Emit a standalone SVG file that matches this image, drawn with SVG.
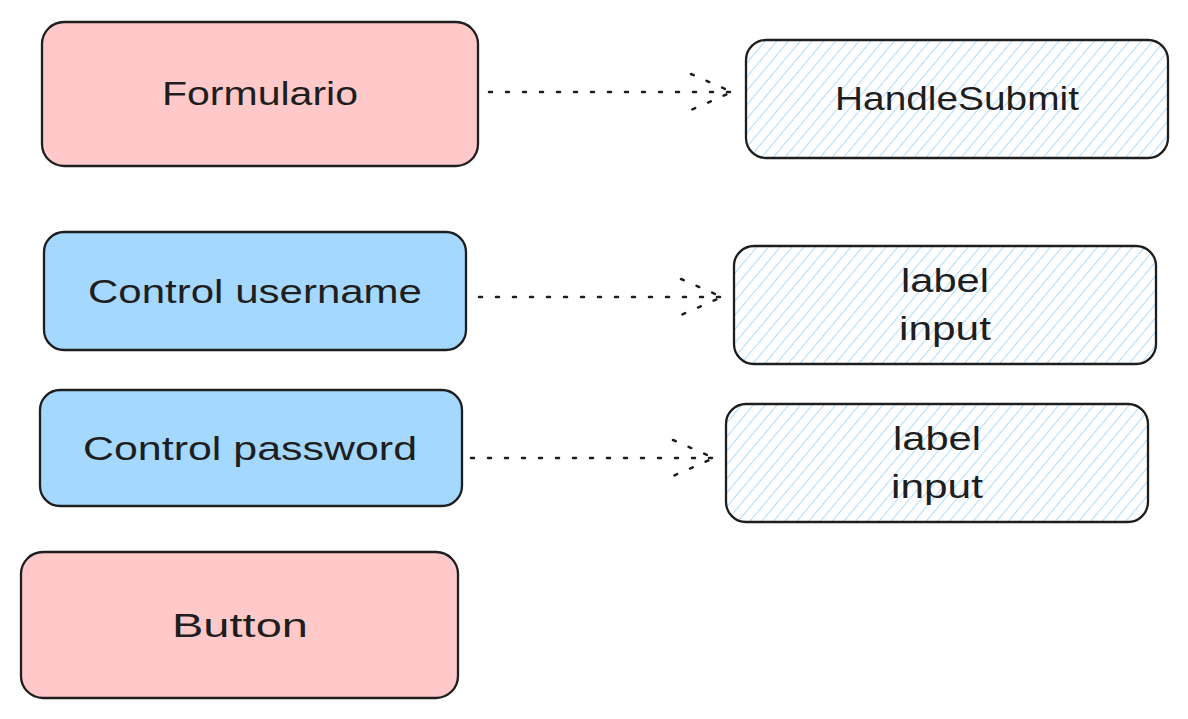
<svg xmlns="http://www.w3.org/2000/svg" width="1188" height="719" viewBox="0 0 1188 719">
<defs>
<pattern id="hatch" patternUnits="userSpaceOnUse" width="9" height="9" patternTransform="rotate(40)">
<line x1="0" y1="0" x2="0" y2="9" stroke="#a5d8ff" stroke-width="1.8"/>
</pattern>
<style>
.box{stroke:#1e1e1e;stroke-width:2.3;}
.pink{fill:#ffc9c9;}
.blue{fill:#a5d8ff;}
.hatch{fill:url(#hatch);}
.t{font-family:"Liberation Sans",Arial,sans-serif;font-size:33px;fill:#1e1e1e;text-anchor:middle;}
.c{fill:none;stroke:#1e1e1e;stroke-width:2.5;stroke-dasharray:3 14;stroke-linecap:round;}
</style>
</defs>
<rect width="1188" height="719" fill="#ffffff"/>
<g id="formulario">
<rect class="box pink" x="42" y="22" width="436" height="144" rx="22"/>
<text class="t" x="260" y="105" textLength="196" lengthAdjust="spacingAndGlyphs">Formulario</text>
</g>
<g id="handlesubmit">
<rect class="box hatch" x="746" y="40" width="422" height="118" rx="20"/>
<text class="t" x="957" y="110" textLength="244" lengthAdjust="spacingAndGlyphs">HandleSubmit</text>
</g>
<g id="control-username">
<rect class="box blue" x="44" y="232" width="422" height="118" rx="20"/>
<text class="t" x="255" y="303" textLength="334" lengthAdjust="spacingAndGlyphs">Control username</text>
</g>
<g id="fields-username">
<rect class="box hatch" x="734" y="246" width="422" height="118" rx="20"/>
<text class="t" x="945" y="292" textLength="88" lengthAdjust="spacingAndGlyphs">label</text>
<text class="t" x="945" y="340" textLength="92" lengthAdjust="spacingAndGlyphs">input</text>
</g>
<g id="control-password">
<rect class="box blue" x="40" y="390" width="422" height="116" rx="20"/>
<text class="t" x="250" y="460" textLength="334" lengthAdjust="spacingAndGlyphs">Control password</text>
</g>
<g id="fields-password">
<rect class="box hatch" x="726" y="404" width="422" height="118" rx="20"/>
<text class="t" x="937" y="450" textLength="88" lengthAdjust="spacingAndGlyphs">label</text>
<text class="t" x="937" y="498" textLength="92" lengthAdjust="spacingAndGlyphs">input</text>
</g>
<g id="button">
<rect class="box pink" x="21" y="552" width="437" height="146" rx="22"/>
<text class="t" x="240" y="637" textLength="136" lengthAdjust="spacingAndGlyphs">Button</text>
</g>
<g id="connectors">
<path class="c" d="M489 92 L732 92 M691 74 L732 92 L691 110"/>
<path class="c" d="M479 297 L722 297 M681 279 L722 297 L681 315"/>
<path class="c" d="M471 458 L714 458 M673 440 L714 458 L673 476"/>
</g>
</svg>
